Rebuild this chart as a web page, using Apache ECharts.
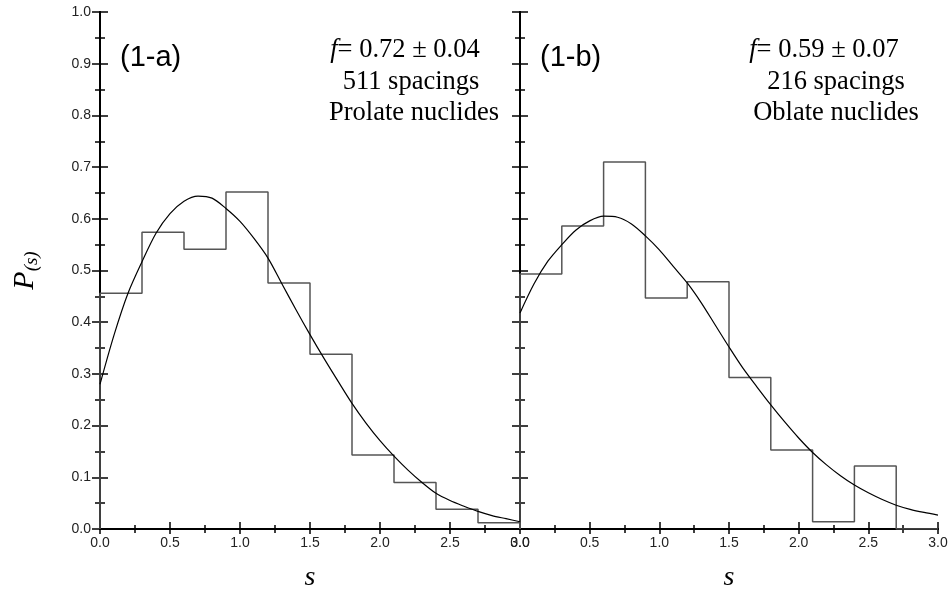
<!DOCTYPE html>
<html>
<head>
<meta charset="utf-8">
<script src="https://cdn.jsdelivr.net/npm/echarts@6/dist/echarts.min.js"></script>
<style>html,body{margin:0;padding:0;background:#fff;}#c{width:949px;height:592px;}</style>
</head>
<body>
<div id="c"></div>
<script>
// bin edges (s) shared by both histograms
var binEdges = [0, 0.3, 0.6, 0.9, 1.2, 1.5, 1.8, 2.1, 2.4, 2.7, 3.0];
// histogram heights
var histA = [0.456, 0.574, 0.541, 0.652, 0.476, 0.338, 0.143, 0.090, 0.038, 0.012];
var histB = [0.493, 0.586, 0.710, 0.447, 0.478, 0.293, 0.153, 0.014, 0.122, 0.0];
// fitted curves
var curveS = [0, 0.1, 0.2, 0.3, 0.4, 0.5, 0.6, 0.7, 0.8, 0.9, 1.0, 1.1, 1.2, 1.3, 1.4, 1.5, 1.6, 1.7, 1.8, 1.9, 2.0, 2.1, 2.2, 2.3, 2.4, 2.5, 2.6, 2.7, 2.8, 2.9, 3.0];
var curveA = [0.28, 0.375, 0.456, 0.517, 0.572, 0.610, 0.634, 0.644, 0.640, 0.620, 0.595, 0.562, 0.524, 0.474, 0.424, 0.376, 0.330, 0.286, 0.243, 0.205, 0.171, 0.141, 0.114, 0.090, 0.069, 0.055, 0.044, 0.034, 0.026, 0.020, 0.014];
var curveB = [0.418, 0.474, 0.518, 0.550, 0.578, 0.596, 0.605, 0.603, 0.590, 0.567, 0.540, 0.508, 0.476, 0.438, 0.395, 0.352, 0.311, 0.275, 0.240, 0.207, 0.176, 0.148, 0.124, 0.103, 0.085, 0.070, 0.057, 0.046, 0.038, 0.032, 0.027];
var xTicks = [0, 0.5, 1.0, 1.5, 2.0, 2.5, 3.0];
var yTicks = [0, 0.1, 0.2, 0.3, 0.4, 0.5, 0.6, 0.7, 0.8, 0.9, 1.0];

function stepPts(h) {
  var p = [[binEdges[0], 0]];
  for (var i = 0; i < h.length; i++) {
    p.push([binEdges[i], h[i]]);
    p.push([binEdges[i + 1], h[i]]);
  }
  p.push([binEdges[binEdges.length - 1], 0]);
  return p;
}
function zip(xs, ys) { return xs.map(function (x, i) { return [x, ys[i]]; }); }

var axisLine = { show: true, lineStyle: { color: '#000', width: 2 } };
var labelFont = { fontFamily: 'Liberation Sans', fontSize: 14, color: '#222' };

function xAx(grid, pos, labels, name) {
  return {
    type: 'value', gridIndex: grid, position: pos, min: 0, max: 3, interval: 0.5,
    axisLine: axisLine,
    axisTick: { show: true, inside: true, length: pos === 'top' ? 5 : 7, lineStyle: { color: '#000', width: 1.5 } },
    minorTick: { show: true, splitNumber: 2, length: 4, lineStyle: { color: '#000', width: 1.5 } },
    splitLine: { show: false },
    axisLabel: Object.assign({ show: labels, margin: 7, showMinLabel: true, showMaxLabel: true,
      formatter: function (v) { return v.toFixed(1); } }, labelFont),
    name: name || '', nameLocation: 'middle', nameGap: 35,
    nameTextStyle: { fontFamily: 'Liberation Serif', fontStyle: 'italic', fontSize: 28, color: '#000' }
  };
}
function yAx(grid, pos, labels, withName) {
  var o = {
    type: 'value', gridIndex: grid, position: pos, min: 0, max: 1, interval: 0.1,
    axisLine: axisLine,
    axisTick: { show: true, inside: true, length: 8, lineStyle: { color: '#000', width: 1.5 } },
    minorTick: { show: true, splitNumber: 2, length: 5, lineStyle: { color: '#000', width: 1.5 } },
    splitLine: { show: false },
    axisLabel: Object.assign({ show: labels, margin: 9, showMinLabel: true, showMaxLabel: true,
      formatter: function (v) { return v.toFixed(1); } }, labelFont)
  };
  if (withName) {
    o.name = '{p|P}{s|(s)}';
    o.nameLocation = 'middle';
    o.nameGap = 59;
    o.nameRotate = 90;
    o.nameTextStyle = { rich: {
      p: { fontFamily: 'Liberation Serif', fontStyle: 'italic', fontSize: 30, color: '#000' },
      s: { fontFamily: 'Liberation Serif', fontStyle: 'italic', fontSize: 19, color: '#000', verticalAlign: 'bottom', padding: [12, 0, 0, 0] }
    } };
  }
  return o;
}

var chart = echarts.init(document.getElementById('c'), null, { renderer: 'canvas' });
var histStyle = { color: '#555', width: 1.5 };
var curveStyle = { color: '#000', width: 1.2 };
var annFont = '26.5px "Liberation Serif"';
chart.setOption({
  animation: false,
  backgroundColor: '#fff',
  grid: [
    { left: 100, right: 429, top: 12, bottom: 63, containLabel: false, outerBoundsMode: 'none' },
    { left: 520, right: 11, top: 12, bottom: 63, containLabel: false, outerBoundsMode: 'none' }
  ],
  xAxis: [
    xAx(0, 'bottom', true, 's'), xAx(0, 'top', false),
    xAx(1, 'bottom', true, 's'), xAx(1, 'top', false)
  ],
  yAxis: [
    yAx(0, 'left', true, true), yAx(0, 'right', false),
    yAx(1, 'left', false), yAx(1, 'right', false)
  ],
  series: [
    { type: 'line', xAxisIndex: 0, yAxisIndex: 0, data: stepPts(histA), showSymbol: false, lineStyle: histStyle, z: 2 },
    { type: 'line', xAxisIndex: 0, yAxisIndex: 0, data: zip(curveS, curveA), smooth: 0.3, showSymbol: false, lineStyle: curveStyle, z: 3 },
    { type: 'line', xAxisIndex: 2, yAxisIndex: 2, data: stepPts(histB), showSymbol: false, lineStyle: histStyle, z: 2 },
    { type: 'line', xAxisIndex: 2, yAxisIndex: 2, data: zip(curveS, curveB), smooth: 0.3, showSymbol: false, lineStyle: curveStyle, z: 3 }
  ],
  graphic: [
    { type: 'text', x: 120, y: 58, style: { text: '(1-a)', font: '29px "Liberation Sans"', fill: '#000', verticalAlign: 'middle' } },
    { type: 'text', x: 540, y: 58, style: { text: '(1-b)', font: '29px "Liberation Sans"', fill: '#000', verticalAlign: 'middle' } },
    { type: 'text', x: 405, y: 50, style: { text: '{i|f}{n|= 0.72 ± 0.04}', align: 'center', verticalAlign: 'middle',
      rich: { i: { font: 'italic ' + annFont, fill: '#000' }, n: { font: annFont, fill: '#000' } } } },
    { type: 'text', x: 411, y: 82, style: { text: '511 spacings', font: annFont, fill: '#000', align: 'center', verticalAlign: 'middle' } },
    { type: 'text', x: 414, y: 113, style: { text: 'Prolate nuclides', font: annFont, fill: '#000', align: 'center', verticalAlign: 'middle' } },
    { type: 'text', x: 824, y: 50, style: { text: '{i|f}{n|= 0.59 ± 0.07}', align: 'center', verticalAlign: 'middle',
      rich: { i: { font: 'italic ' + annFont, fill: '#000' }, n: { font: annFont, fill: '#000' } } } },
    { type: 'text', x: 836, y: 82, style: { text: '216 spacings', font: annFont, fill: '#000', align: 'center', verticalAlign: 'middle' } },
    { type: 'text', x: 836, y: 113, style: { text: 'Oblate nuclides', font: annFont, fill: '#000', align: 'center', verticalAlign: 'middle' } }
  ]
});
</script>
</body>
</html>
